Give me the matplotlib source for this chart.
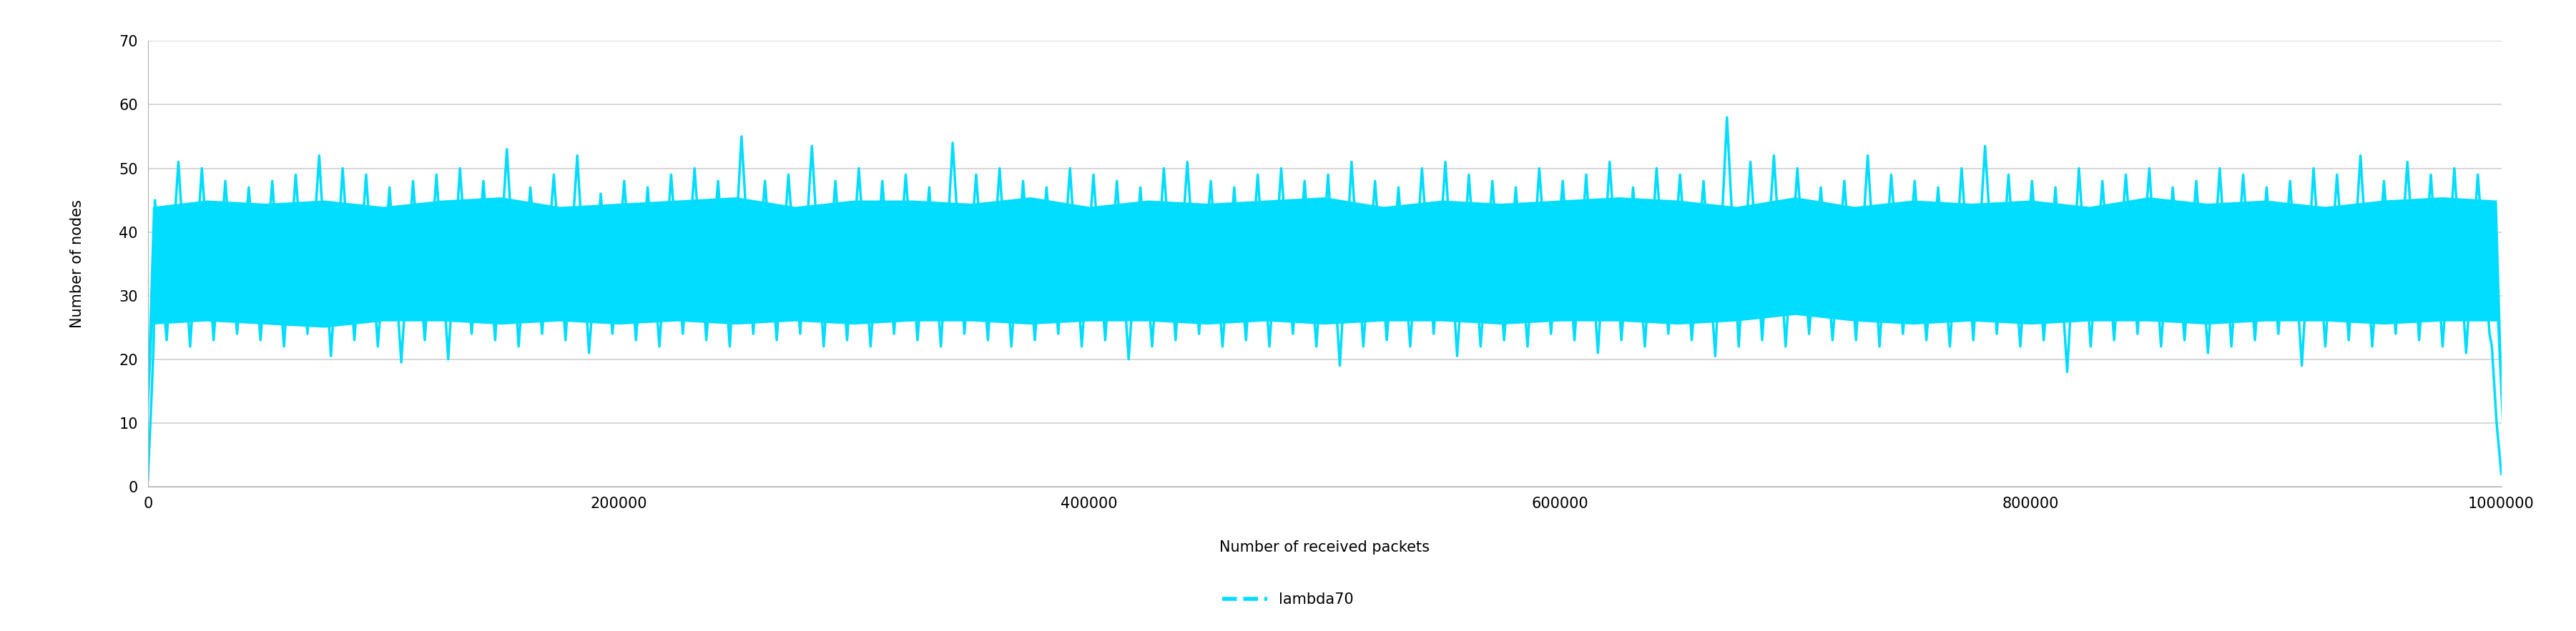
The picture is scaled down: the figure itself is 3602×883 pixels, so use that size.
import matplotlib
matplotlib.use("Agg")
import matplotlib.pyplot as plt
from matplotlib.ticker import FuncFormatter
import numpy as np

# Envelope (x in received packets)
core_x = [0, 2000, 25000, 50000, 75000, 100000, 125000, 150000, 175000, 200000, 225000, 250000,
          275000, 300000, 325000, 350000, 375000, 400000, 425000, 450000, 475000, 500000, 525000,
          550000, 575000, 600000, 625000, 650000, 675000, 700000, 725000, 750000, 775000, 800000,
          825000, 850000, 875000, 900000, 925000, 950000, 975000, 998000, 1000000]
core_lo = [10, 25.5, 26, 25.5, 25, 26, 26, 25.5, 26, 25.5, 26, 25.5, 26, 25.5, 26, 26, 25.5, 26, 26, 25.5,
           26, 25.5, 26, 26, 25.5, 26, 26, 25.5, 26, 27, 26, 25.5, 26, 25.5, 26, 26, 25.5, 26, 26, 25.5, 26, 26, 10]
core_hi = [20, 44, 45, 44.5, 45, 44, 45, 45.5, 44, 44.5, 45, 45.5, 44, 45, 45, 44.5, 45.5, 44, 45, 44.5,
           45, 45.5, 44, 45, 44.5, 45, 45.5, 45, 44, 45.5, 44, 45, 44.5, 45, 44, 45.5, 44.5, 45, 44, 45, 45.5, 45, 20]

# Peaks and troughs
peaks = [45, 51, 50, 48, 47, 48, 49, 52, 50, 49, 47, 48, 49, 50, 48, 53, 47, 49, 52, 46,
         48, 47, 49, 50, 48, 55, 48, 49, 53.5, 48, 50, 48, 49, 47, 54, 49, 50, 48, 47, 50,
         49, 48, 47, 50, 51, 48, 47, 49, 50, 48, 49, 51, 48, 47, 50, 51, 49, 48, 47, 50,
         48, 49, 51, 47, 50, 49, 48, 58, 51, 52, 50, 47, 48, 52, 49, 48, 47, 50, 53.5, 49,
         48, 47, 50, 48, 49, 50, 47, 48, 50, 49, 47, 48, 50, 49, 52, 48, 51, 49, 50, 49]
troughs = [23, 22, 23, 24, 23, 22, 24, 20.5, 23, 22, 19.5, 23, 20, 24, 23, 22, 24, 23, 21, 24,
           23, 22, 24, 23, 22, 24, 23, 24, 22, 23, 22, 24, 23, 22, 24, 23, 22, 23, 24, 22,
           23, 20, 22, 23, 24, 22, 23, 22, 24, 22, 19, 22, 23, 22, 24, 20.5, 22, 23, 22, 24,
           23, 21, 23, 22, 24, 23, 20.5, 22, 23, 22, 24, 23, 23, 22, 24, 23, 22, 23, 24, 22,
           23, 18, 22, 23, 24, 22, 23, 21, 22, 23, 24, 19, 22, 23, 22, 24, 23, 22, 21, 24]
start_vals = [1, 8, 15, 23]
end_vals = [22, 10, 2]

color = "#00DDFF"
fig = plt.figure(figsize=(36.02, 8.83), dpi=100)
ax = fig.add_axes([0.0574, 0.229, 0.9136, 0.706])

n = len(peaks)
span = np.linspace(3000, 995000, n * 2)
xs = []
ys = []
for i in range(n):
    xs += [span[2 * i], span[2 * i + 1]]
    ys += [peaks[i], troughs[i]]
xs = list(np.linspace(0, 2500, len(start_vals))) + xs + list(np.linspace(996000, 1000000, len(end_vals)))
ys = start_vals + ys + end_vals

ax.fill_between(core_x, core_lo, core_hi, color=color, lw=0)
line, = ax.plot(xs, ys, color=color, lw=2.5, label="lambda70")

ax.set_xlim(0, 1000000)
ax.set_ylim(0, 70)
ax.set_yticks(range(0, 71, 10))
ax.set_xticks(range(0, 1000001, 200000))
ax.xaxis.set_major_formatter(FuncFormatter(lambda v, p: f"{int(v)}"))
ax.grid(axis="y", color="#d0d0d0", lw=1.2)
ax.set_axisbelow(True)
for s in ["top", "right"]:
    ax.spines[s].set_visible(False)
for s in ["left", "bottom"]:
    ax.spines[s].set_color("#b0b0b0")
ax.tick_params(labelsize=15, length=0, pad=10)
ax.set_xlabel("Number of received packets", fontsize=15, labelpad=30)
ax.set_ylabel("Number of nodes", fontsize=15, labelpad=35)
from matplotlib.lines import Line2D
h = Line2D([], [], color=color, lw=4, ls="--")
fig.legend([h], ["lambda70"], loc="center", bbox_to_anchor=(0.5, 0.05), frameon=False,
           fontsize=15, handlelength=3)
fig.savefig("out.png", dpi=100)
